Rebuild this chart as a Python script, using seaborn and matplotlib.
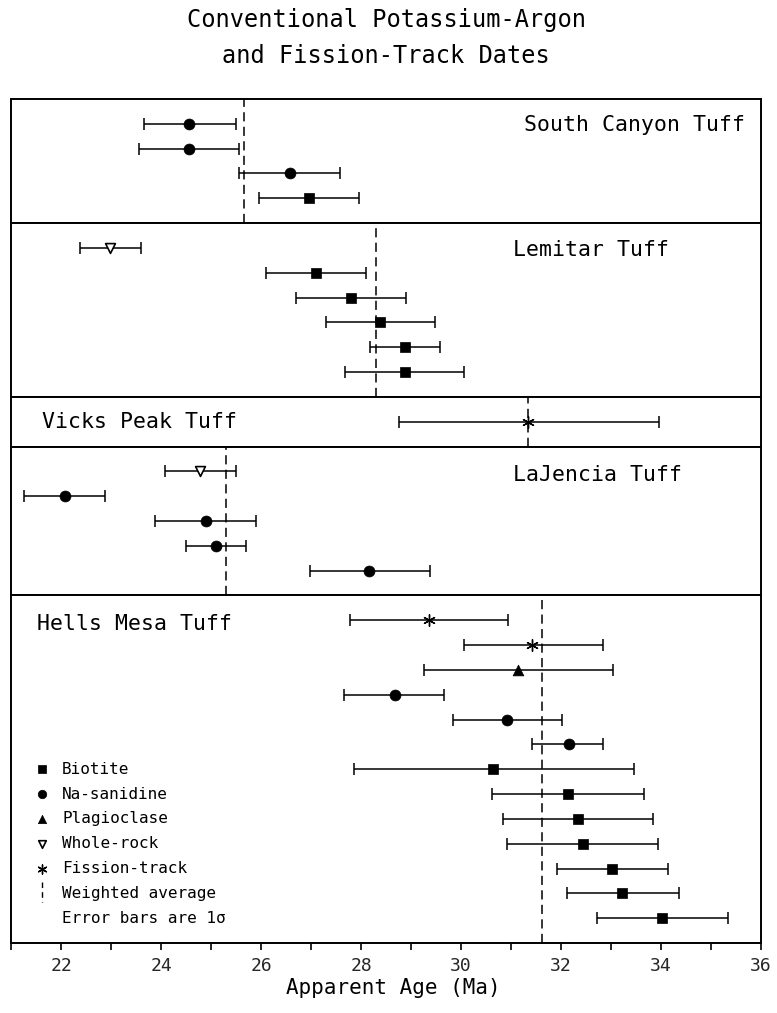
import numpy as np
import pandas as pd
import matplotlib
matplotlib.use("Agg")
import matplotlib.pyplot as plt
import seaborn as sns

sns.set_theme(style="white")
plt.rcParams['font.family'] = ['DejaVu Sans Mono', 'DejaVu Sans']

# ---------------- data ----------------
panel_names = ["South Canyon Tuff", "Lemitar Tuff", "Vicks Peak Tuff",
               "LaJencia Tuff", "Hells Mesa Tuff"]
panel_units = [5, 7, 2, 6, 14]
weighted_avg = [25.65, 28.30, 31.33, 25.29, 31.62]

sc_age = [24.56, 24.56, 26.57, 26.96]
sc_lo = [23.66, 23.56, 25.56, 25.96]
sc_hi = [25.49, 25.56, 27.57, 27.95]
sc_min = ["Na-sanidine", "Na-sanidine", "Na-sanidine", "Biotite"]

le_age = [22.98, 27.10, 27.79, 28.38, 28.88, 28.87]
le_lo = [22.38, 26.10, 26.69, 27.29, 28.17, 27.67]
le_hi = [23.60, 28.10, 28.89, 29.48, 29.57, 30.05]
le_min = ["Whole-rock", "Biotite", "Biotite", "Biotite", "Biotite", "Biotite"]

vp_age = [31.33]
vp_lo = [28.75]
vp_hi = [33.95]
vp_min = ["Fission-track"]

lj_age = [24.78, 22.07, 24.89, 25.10, 28.15]
lj_lo = [24.08, 21.26, 23.88, 24.49, 26.97]
lj_hi = [25.50, 22.88, 25.90, 25.70, 29.37]
lj_min = ["Whole-rock", "Na-sanidine", "Na-sanidine", "Na-sanidine", "Na-sanidine"]

hm_age = [29.36, 31.42, 31.13, 28.68, 30.92, 32.15, 30.63,
          32.14, 32.34, 32.44, 33.02, 33.23, 34.02]
hm_lo = [27.78, 30.06, 29.26, 27.66, 29.84, 31.42, 27.86,
         30.62, 30.84, 30.92, 31.91, 32.11, 32.73]
hm_hi = [30.93, 32.84, 33.04, 29.66, 32.02, 32.84, 33.45,
         33.65, 33.84, 33.94, 34.14, 34.35, 35.34]
hm_min = ["Fission-track", "Fission-track", "Plagioclase", "Na-sanidine",
          "Na-sanidine", "Na-sanidine", "Biotite", "Biotite", "Biotite",
          "Biotite", "Biotite", "Biotite", "Biotite"]

legend_labels = ["Biotite", "Na-sanidine", "Plagioclase", "Whole-rock",
                 "Fission-track", "Weighted average", "Error bars are 1σ"]

x_ticks = list(range(21, 37))
x_ticklabels = [str(t) if t % 2 == 0 else "" for t in x_ticks]

# ---------------- assemble ----------------
frames = []
for name, age, lo, hi, mn in [
        (panel_names[0], sc_age, sc_lo, sc_hi, sc_min),
        (panel_names[1], le_age, le_lo, le_hi, le_min),
        (panel_names[2], vp_age, vp_lo, vp_hi, vp_min),
        (panel_names[3], lj_age, lj_lo, lj_hi, lj_min),
        (panel_names[4], hm_age, hm_lo, hm_hi, hm_min)]:
    frames.append(pd.DataFrame({"panel": name, "row": np.arange(1, len(age) + 1),
                                "age": age, "lo": lo, "hi": hi, "mineral": mn}))
df = pd.concat(frames, ignore_index=True)

marker_style = {
    "Biotite": dict(marker="s", s=48, color="black", edgecolor="black", linewidth=0.5),
    "Na-sanidine": dict(marker="o", s=62, color="black", edgecolor="black", linewidth=0.5),
    "Plagioclase": dict(marker="^", s=60, color="black", edgecolor="black", linewidth=0.5),
    "Whole-rock": dict(marker="v", s=50, color="white", edgecolor="black", linewidth=1.2),
    "Fission-track": dict(marker=(6, 2, 0), s=70, color="black", linewidth=1.0),
}

# ---------------- figure ----------------
fig = plt.figure(figsize=(7.77, 10.13), dpi=100)
gs = fig.add_gridspec(5, 1, height_ratios=panel_units, hspace=0,
                      left=11 / 777, right=761 / 777,
                      top=1 - 99 / 1013, bottom=1 - 943 / 1013)
axes = [fig.add_subplot(gs[i, 0]) for i in range(5)]

label_pos = [(35.68, 1.05, "right"), (31.04, 1.08, "left"), (21.62, 1.0, "left"),
             (31.04, 1.15, "left"), (21.52, 1.13, "left")]

for i, ax in enumerate(axes):
    name = panel_names[i]
    sub = df[df.panel == name]
    ax.set_xlim(21, 36)
    ax.set_ylim(panel_units[i], 0)
    ax.axvline(weighted_avg[i], color="black", lw=1.1, ls=(0, (6, 3.5)), zorder=1)
    ax.errorbar(sub.age, sub.row, xerr=[sub.age - sub.lo, sub.hi - sub.age],
                fmt="none", ecolor="black", elinewidth=1.1, capsize=4, capthick=1.1,
                zorder=2)
    for mn, g in sub.groupby("mineral"):
        sns.scatterplot(x=g.age, y=g.row, ax=ax, legend=False, zorder=3,
                        **marker_style[mn])
    lx, ly, ha = label_pos[i]
    ax.text(lx, ly, name, ha=ha, va="center", fontsize=15.5, color="black")
    ax.set_xlabel("")
    ax.set_ylabel("")
    ax.set_yticks([])
    for sp in ax.spines.values():
        sp.set_color("black")
        sp.set_linewidth(1.4)
    if i < 4:
        ax.set_xticks([])
    else:
        ax.set_xticks(x_ticks)
        ax.set_xticklabels(x_ticklabels, fontsize=13)
        ax.tick_params(axis="x", direction="out", length=5, width=1.2,
                       color="black", pad=5, bottom=True)

# legend inside Hells Mesa panel
hm = axes[4]
leg_x_mark, leg_x_text = 21.62, 22.02
leg_markers = ["Biotite", "Na-sanidine", "Plagioclase", "Whole-rock", "Fission-track"]
for k, lab in enumerate(legend_labels):
    row = 7 + k
    hm.text(leg_x_text, row, lab, ha="left", va="center", fontsize=11.5, color="black")
    if lab in leg_markers:
        st = dict(marker_style[lab])
        st["s"] = st["s"] * 0.6
        sns.scatterplot(x=[leg_x_mark], y=[row], ax=hm, legend=False, zorder=3, **st)
    elif lab == "Weighted average":
        hm.plot([leg_x_mark, leg_x_mark], [row - 0.45, row + 0.35], color="black",
                lw=1.0, ls=(0, (4, 3)))
hm.set_xlabel("")
hm.set_ylabel("")

fig.text(0.497, 1 - 20 / 1013, "Conventional Potassium-Argon", ha="center",
         va="center", fontsize=17, color="black")
fig.text(0.497, 1 - 56 / 1013, "and Fission-Track Dates", ha="center",
         va="center", fontsize=17, color="black")
fig.text(393 / 777, 1 - 988 / 1013, "Apparent Age (Ma)", ha="center", va="center",
         fontsize=15, color="black")

fig.savefig("out.png", dpi=100, facecolor="white")
